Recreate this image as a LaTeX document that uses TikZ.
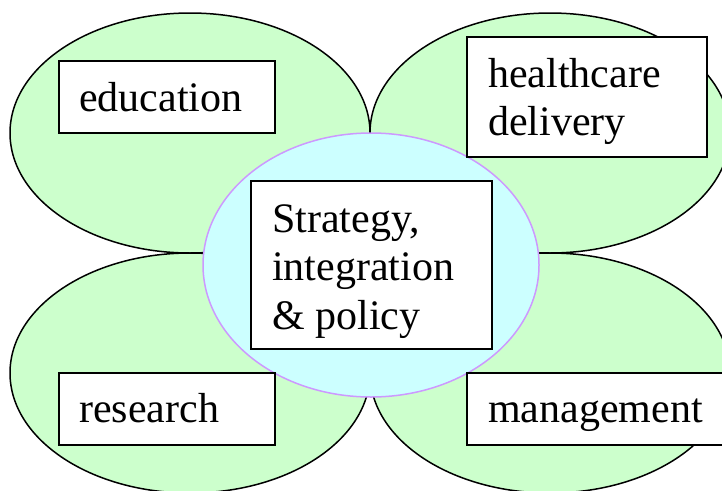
\documentclass[tikz,border=0pt]{standalone}
\usepackage{fontspec}
\setmainfont{Liberation Serif}
\definecolor{petal}{HTML}{CCFFCC}
\definecolor{core}{HTML}{CCFFFF}
\definecolor{coreline}{HTML}{CC99FF}
\begin{document}
\begin{tikzpicture}[x=1pt,y=-1pt,
  petalshape/.style={draw=black,fill=petal,line width=1.5pt},
  coreshape/.style={draw=coreline,fill=core,line width=1.5pt},
  labelbox/.style={draw=black,fill=white,line width=2pt,inner sep=0pt},
  labeltext/.style={inner sep=0pt,anchor=base west,align=left,
    font=\fontsize{42}{48.5}\selectfont}]
\useasboundingbox (0,0) rectangle (722,490);
\clip (0,0) rectangle (722,490);
% four petals
\draw[petalshape] (190,133) ellipse [x radius=180, y radius=120];
\draw[petalshape] (550,133) ellipse [x radius=180, y radius=120];
\draw[petalshape] (190,373) ellipse [x radius=180, y radius=120];
\draw[petalshape] (550,373) ellipse [x radius=180, y radius=120];
% centre
\draw[coreshape] (371,265) ellipse [x radius=168, y radius=132];
% label boxes
\node[labelbox,minimum width=216,minimum height=72] (eduBox) at (167,97) {};
\node[labelbox,minimum width=240,minimum height=120] (careBox) at (587,97) {};
\node[labelbox,minimum width=216,minimum height=72] (resBox) at (167,409) {};
\node[labelbox,minimum width=263,minimum height=72] (mgmtBox) at (598.5,409) {};
\node[labelbox,minimum width=241,minimum height=168] (coreBox) at (371.5,265) {};
% label texts (multi-line ones are placed by the baseline of their last line)
\node[labeltext] (eduTxt) at (79,111) {education};
\node[labeltext] (careTxt) at (488,135.5) {healthcare\\delivery};
\node[labeltext] (resTxt) at (79,422) {research};
\node[labeltext] (mgmtTxt) at (488,422) {management};
\node[labeltext] (coreTxt) at (272,329) {Strategy,\\integration\\\& policy};
\end{tikzpicture}
\end{document}
